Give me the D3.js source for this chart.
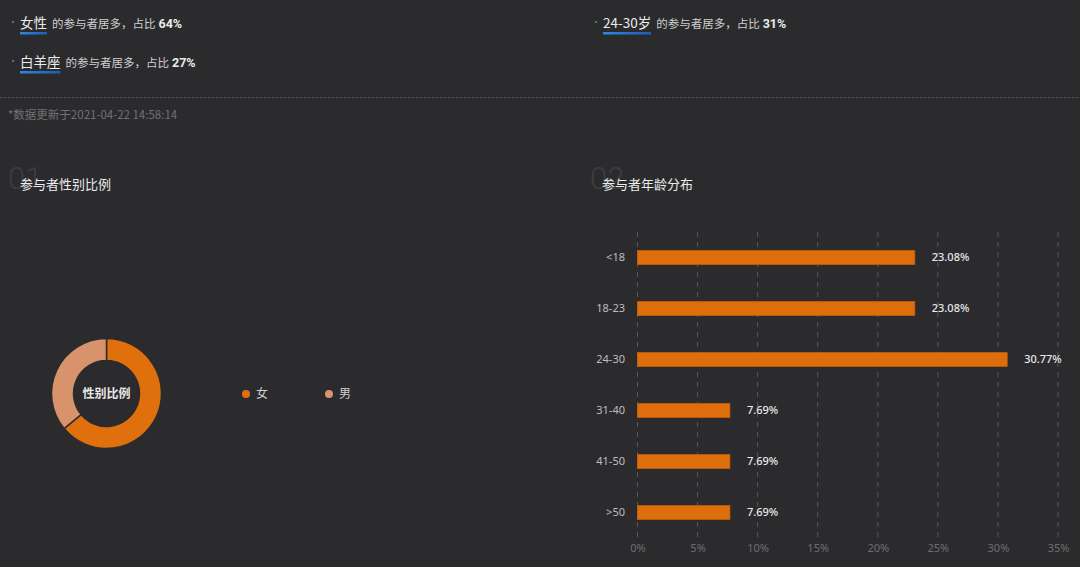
<!DOCTYPE html>
<html>
<head>
<meta charset="utf-8">
<script src="https://cdn.jsdelivr.net/npm/d3@7"></script>
<style>
  html, body { margin: 0; padding: 0; background: #2b2b2e; }
  svg { display: block; font-family: "Noto Sans CJK SC", "Noto Sans", sans-serif; }
</style>
</head>
<body>
<svg id="chart" width="1080" height="567"></svg>
<script>
// summary lines at the top
var summaryKeys = ["女性", "白羊座", "24-30岁"];
var summaryPcts = ["64%", "27%", "31%"];
var updateTime = "2021-04-22 14:58:14";

// gender donut
var genderLabels = ["女", "男"];
var genderValues = [64, 36];

// age bars
var ageCategories = ["<18", "18-23", "24-30", "31-40", "41-50", ">50"];
var ageValues = [23.08, 23.08, 30.77, 7.69, 7.69, 7.69];
var ageTicks = [0, 5, 10, 15, 20, 25, 30, 35];

var svg = d3.select("#chart");

svg.append("rect").attr("width", 1080).attr("height", 567).attr("fill", "#2b2b2e");

var defs = svg.append("defs");
var grad = defs.append("linearGradient").attr("id", "uline");
grad.append("stop").attr("offset", "0%").attr("stop-color", "#2f86e8");
grad.append("stop").attr("offset", "100%").attr("stop-color", "#1b5db3");

// ---- summary ----
var summaryPos = [[20, 22], [20, 61], [603, 22]];
summaryKeys.forEach(function(k, i) {
  var px = summaryPos[i][0], py = summaryPos[i][1];
  svg.append("text").attr("x", px - 12).attr("y", py).attr("dy", "0.35em")
    .attr("fill", "#777").attr("font-size", 10).text("·");
  var t = svg.append("text").attr("x", px).attr("y", py).attr("dy", "0.35em");
  var key = t.append("tspan").attr("font-size", 13.5).attr("fill", "#ececec").text(k);
  t.append("tspan").attr("dx", 5).attr("font-size", 11.5).attr("fill", "#cfcfcf").text("的参与者居多，占比");
  t.append("tspan").attr("dx", 3).attr("font-size", 12.5).attr("font-weight", "bold")
    .attr("font-family", "Roboto, 'Noto Sans', sans-serif").attr("fill", "#ececec").text(summaryPcts[i]);
  var w = key.node().getComputedTextLength();
  svg.append("rect").attr("x", px).attr("y", py + 10).attr("width", w).attr("height", 2.5)
    .attr("fill", "url(#uline)");
});

svg.append("line").attr("x1", 0).attr("x2", 1080).attr("y1", 97.5).attr("y2", 97.5)
  .attr("stroke", "#555").attr("stroke-dasharray", "2,2");

svg.append("text").attr("x", 8).attr("y", 115).attr("dy", "0.35em")
  .attr("font-size", 11.5).attr("fill", "#727272").text("*数据更新于" + updateTime);

// ---- section headers ----
var sections = [["01", "参与者性别比例", 8], ["02", "参与者年龄分布", 590]];
sections.forEach(function(s) {
  svg.append("text").attr("x", s[2]).attr("y", 189).attr("font-size", 31)
    .attr("font-family", "Roboto, 'Noto Sans', sans-serif").attr("font-weight", 300)
    .attr("fill", "#3d3d41").text(s[0]);
  svg.append("text").attr("x", s[2] + 12).attr("y", 184).attr("dy", "0.35em")
    .attr("font-size", 13).attr("fill", "#ececec").text(s[1]);
});

// ---- donut ----
var genderColor = d3.scaleOrdinal().domain(genderLabels).range(["#e0700c", "#d9936c"]);
var pie = d3.pie().sort(null).value(function(d) { return d; });
var arc = d3.arc().innerRadius(33).outerRadius(55);
var donut = svg.append("g").attr("transform", "translate(106.5,393.5)");
donut.selectAll("path")
  .data(pie(genderValues))
  .enter()
  .append("path")
  .attr("d", arc)
  .attr("fill", function(d, i) { return genderColor(genderLabels[i]); })
  .attr("stroke", "#2b2b2e")
  .attr("stroke-width", 1.5);
donut.append("text").attr("text-anchor", "middle").attr("dy", "0.35em")
  .attr("font-size", 12).attr("font-weight", "bold").attr("fill", "#e8e8e8").text("性别比例");

var legend = svg.selectAll(".legend")
  .data(genderLabels)
  .enter()
  .append("g")
  .attr("class", "legend")
  .attr("transform", function(d, i) { return "translate(" + (246 + i * 83) + ",394)"; });
legend.append("circle").attr("r", 4).attr("fill", function(d) { return genderColor(d); });
legend.append("text").attr("x", 10).attr("dy", "0.35em").attr("font-size", 12)
  .attr("fill", "#cfcfcf").text(function(d) { return d; });

// ---- age bars ----
var x = d3.scaleLinear().domain([0, 35]).range([637.5, 1058]);
var y = d3.scaleBand().domain(ageCategories).range([232, 538]).paddingInner(0.73).paddingOuter(0.365);

svg.append("g").selectAll("line")
  .data(ageTicks)
  .enter()
  .append("line")
  .attr("x1", function(d) { return x(d); })
  .attr("x2", function(d) { return x(d); })
  .attr("y1", 232).attr("y2", 538)
  .attr("stroke", "#585858")
  .attr("stroke-dasharray", "5,5");

var xAxis = svg.append("g").attr("transform", "translate(0,538)")
  .call(d3.axisBottom(x).tickValues(ageTicks).tickSize(0).tickPadding(6)
    .tickFormat(function(d) { return d + "%"; }));
xAxis.select(".domain").remove();
xAxis.selectAll("text").attr("fill", "#6e6e6e").attr("font-size", 11)
  .attr("font-family", "'Noto Sans', sans-serif");

var yAxis = svg.append("g").attr("transform", "translate(625,0)")
  .call(d3.axisLeft(y).tickSize(0).tickPadding(0));
yAxis.select(".domain").remove();
yAxis.selectAll("text").attr("fill", "#bdbdbd").attr("font-size", 11)
  .attr("font-family", "'Noto Sans', sans-serif");

svg.append("g").selectAll("rect")
  .data(ageValues)
  .enter()
  .append("rect")
  .attr("x", x(0))
  .attr("y", function(d, i) { return y(ageCategories[i]); })
  .attr("width", function(d) { return x(d) - x(0); })
  .attr("height", y.bandwidth())
  .attr("fill", "#de6e0b")
  .attr("stroke", "#c9620a")
  .attr("stroke-width", 0.8);

svg.append("g").selectAll("text")
  .data(ageValues)
  .enter()
  .append("text")
  .attr("x", function(d) { return x(d) + 17; })
  .attr("y", function(d, i) { return y(ageCategories[i]) + y.bandwidth() / 2; })
  .attr("dy", "0.35em")
  .attr("font-size", 11)
  .attr("font-weight", 500)
  .attr("font-family", "'Noto Sans', sans-serif")
  .attr("fill", "#e8e8e8")
  .text(function(d) { return d.toFixed(2) + "%"; });
</script>
</body>
</html>
